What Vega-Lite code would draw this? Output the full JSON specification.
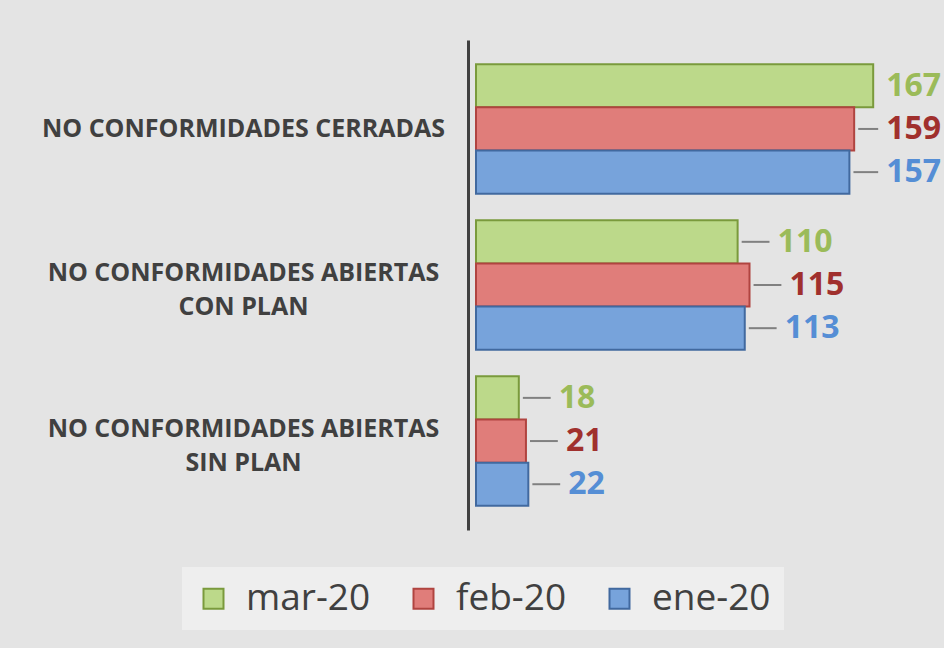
{
  "$schema": "https://vega.github.io/schema/vega-lite/v6.json",
  "width": 440,
  "height": 490,
  "autosize": {"type": "none"},
  "padding": {"left": 476, "top": 40, "right": 28, "bottom": 118},
  "background": "#e4e4e4",
  "config": {"view": {"stroke": null}, "font": "Open Sans"},
  "data": {
    "values": [
      {"cat": "NO CONFORMIDADES CERRADAS", "mes": "mar-20", "v": 167},
      {"cat": "NO CONFORMIDADES CERRADAS", "mes": "feb-20", "v": 159},
      {"cat": "NO CONFORMIDADES CERRADAS", "mes": "ene-20", "v": 157},
      {"cat": "NO CONFORMIDADES ABIERTAS|CON PLAN", "mes": "mar-20", "v": 110},
      {"cat": "NO CONFORMIDADES ABIERTAS|CON PLAN", "mes": "feb-20", "v": 115},
      {"cat": "NO CONFORMIDADES ABIERTAS|CON PLAN", "mes": "ene-20", "v": 113},
      {"cat": "NO CONFORMIDADES ABIERTAS|SIN PLAN", "mes": "mar-20", "v": 18},
      {"cat": "NO CONFORMIDADES ABIERTAS|SIN PLAN", "mes": "feb-20", "v": 21},
      {"cat": "NO CONFORMIDADES ABIERTAS|SIN PLAN", "mes": "ene-20", "v": 22}
    ]
  },
  "encoding": {
    "y": {
      "field": "cat",
      "type": "nominal",
      "sort": ["NO CONFORMIDADES CERRADAS", "NO CONFORMIDADES ABIERTAS|CON PLAN", "NO CONFORMIDADES ABIERTAS|SIN PLAN"],
      "scale": {"paddingInner": 0.17, "paddingOuter": 0.155},
      "axis": {
        "title": null,
        "domainColor": "#404040",
        "domainWidth": 3,
        "ticks": false,
        "offset": 8,
        "labelPadding": 225,
        "labelAlign": "center",
        "labelBaseline": "middle",
        "labelFontSize": 25,
        "labelFontWeight": "bold",
        "labelColor": "#404040",
        "labelLineHeight": 34,
        "labelLimit": 500,
        "labelExpr": "split(datum.label, '|')",
        "labelOffset": {"condition": {"test": "indexof(datum.label, '|') >= 0", "value": -12}, "value": 0}
      }
    },
    "yOffset": {"field": "mes", "type": "nominal", "sort": ["mar-20", "feb-20", "ene-20"]}
  },
  "layer": [
    {
      "mark": {"type": "bar", "strokeWidth": 2},
      "encoding": {
        "x": {"field": "v", "type": "quantitative", "scale": {"domain": [0, 185], "nice": false}, "axis": null},
        "color": {
          "field": "mes",
          "type": "nominal",
          "scale": {"domain": ["mar-20", "feb-20", "ene-20"], "range": ["#bcd98a", "#e07d7a", "#77a3db"]},
          "legend": {
            "title": null,
            "orient": "none",
            "legendX": -294,
            "legendY": 527,
            "direction": "horizontal",
            "padding": 13,
            "fillColor": "#eeeeee",
            "symbolType": "square",
            "symbolSize": 400,
            "symbolStrokeWidth": 2,
            "labelFontSize": 37,
            "labelColor": "#404040",
            "labelOffset": 14,
            "columnPadding": 34,
            "encode": {
              "symbols": {"update": {"stroke": {"scale": "stroke", "field": "value"}, "fill": {"scale": "color", "field": "value"}}}
            }
          }
        },
        "stroke": {
          "field": "mes",
          "type": "nominal",
          "scale": {"domain": ["mar-20", "feb-20", "ene-20"], "range": ["#7a9a3c", "#b04440", "#41699f"]},
          "legend": null
        }
      }
    },
    {
      "transform": [
        {"calculate": "min(datum.v + 16.8, 172.5)", "as": "lx"},
        {"filter": "datum.lx - datum.v > 8"},
        {"calculate": "datum.v + 1.7", "as": "r1"},
        {"calculate": "datum.lx - 3.4", "as": "r2"}
      ],
      "mark": {"type": "rule", "color": "#808080", "strokeWidth": 2},
      "encoding": {
        "x": {"field": "r1", "type": "quantitative"},
        "x2": {"field": "r2"}
      }
    },
    {
      "transform": [{"calculate": "min(datum.v + 16.8, 172.5)", "as": "lx"}],
      "mark": {"type": "text", "align": "left", "baseline": "middle", "fontWeight": "bold", "fontSize": 32},
      "encoding": {
        "x": {"field": "lx", "type": "quantitative"},
        "text": {"field": "v", "type": "quantitative"},
        "color": {
          "field": "mes",
          "type": "nominal",
          "scale": {"domain": ["mar-20", "feb-20", "ene-20"], "range": ["#9bbb59", "#a0302d", "#558ed5"]},
          "legend": null
        }
      }
    }
  ],
  "resolve": {"scale": {"color": "independent"}}
}
